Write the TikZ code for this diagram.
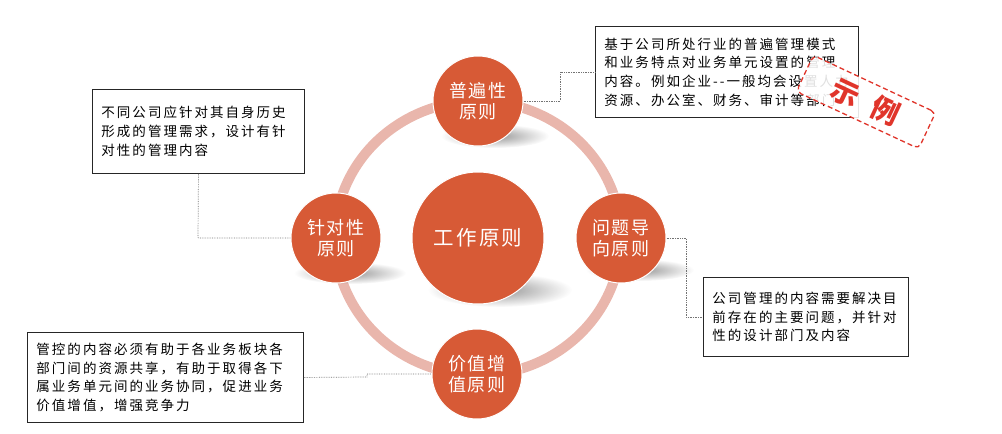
\documentclass[tikz,border=0pt]{standalone}
\usepackage{fontspec}
\newfontfamily\boxfont{Noto Sans CJK SC}[LetterSpace=15]
\newfontfamily\circfont{Noto Sans CJK SC}[LetterSpace=10]
\newfontfamily\stampfont{Noto Sans CJK SC}
\usetikzlibrary{fadings}
\definecolor{princ}{HTML}{D75A36}
\definecolor{ringc}{HTML}{E9B6AC}
\definecolor{stampred}{HTML}{E0352B}
\tikzfading[name=softshadow, inner color=transparent!0, outer color=transparent!100]
\begin{document}
\begin{tikzpicture}[x=1pt,y=-1pt,
  princ/.style={circle, fill=princ, draw=white, line width=1pt, inner sep=0pt,
    text=white, align=center, font=\circfont\fontsize{18}{21}\selectfont},
  infobox/.style={draw=black!85, line width=0.9pt, fill=white, anchor=north west,
    inner xsep=9pt, inner ysep=0pt, align=left, text=black,
    font=\boxfont\fontsize{13.5}{18.7}\selectfont},
  conn/.style={draw=black!55, densely dotted, line width=0.7pt},
  shadowfill/.style={fill=black!55, fill opacity=0.75, path fading=softshadow},
  stamp/.style={draw=stampred, dash pattern=on 5pt off 3pt, line width=1.3pt,
    rounded corners=5pt, fill=white, fill opacity=0.88, text opacity=1,
    minimum width=135pt, minimum height=40pt, rotate=-25, text=stampred,
    font=\stampfont\bfseries\fontsize{28}{28}\selectfont}
]
\useasboundingbox (0,0) rectangle (1002,434);
% ring
\draw[ringc, line width=10pt] (478,238) ellipse [x radius=143, y radius=137];
% shadows
\fill[shadowfill] (495,136) ellipse [x radius=54, y radius=12];
\fill[shadowfill] (500,290) ellipse [x radius=72, y radius=17];
\fill[shadowfill] (350,273) ellipse [x radius=56, y radius=11];
\fill[shadowfill] (640,270) ellipse [x radius=54, y radius=11];
% principle circles
\node[princ, minimum size=132pt, font=\circfont\fontsize{20.5}{24}\selectfont] (c) at (478,238) {工作原则};
\node[princ, minimum size=90pt] (t) at (478,101) {普遍性\\原则};
\node[princ, minimum size=90pt] (l) at (336,238) {针对性\\原则};
\node[princ, minimum size=90pt] (r) at (621,238) {问题导\\向原则};
\node[princ, minimum size=90pt] (bt) at (477,374) {价值增\\值原则};
% boxes
\node[infobox, text width=245pt, minimum height=91pt] (b1) at (595,26)
  {基于公司所处行业的普遍管理模式\\和业务特点对业务单元设置的管理\\内容。例如企业--一般均会设置人力\\资源、办公室、财务、审计等部门};
\node[infobox, text width=194pt, minimum height=84pt] (b2) at (92,89)
  {不同公司应针对其自身历史\\形成的管理需求，设计有针\\对性的管理内容};
\node[infobox, text width=187pt, minimum height=79pt] (b3) at (703,277)
  {公司管理的内容需要解决目\\前存在的主要问题，并针对\\性的设计部门及内容};
\node[infobox, text width=258pt, minimum height=90pt] (b4) at (27,332)
  {管控的内容必须有助于各业务板块各\\部门间的资源共享，有助于取得各下\\属业务单元间的业务协同，促进业务\\价值增值，增强竞争力};
% connectors
\coordinate (k1) at (560,101);
\coordinate (k2) at (198,238);
\coordinate (k3) at (686,238);
\coordinate (k4) at (367,377);
\draw[conn] (t.east) -- (k1) |- (b1.west);
\draw[conn] (b2.south) -- (k2) -- (l.west);
\draw[conn] (r.east) -- (k3) |- (b3.west);
\draw[conn] (b4.east) -- (k4) |- (bt.west);
% stamp
\node[stamp] (s) at (866,102) {示\hspace{16pt}例};
\end{tikzpicture}
\end{document}
